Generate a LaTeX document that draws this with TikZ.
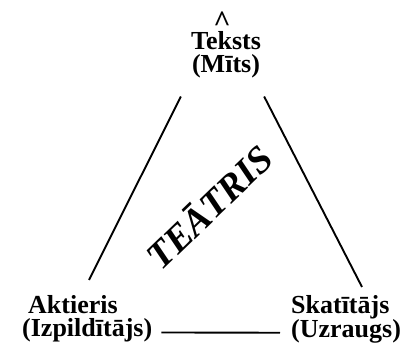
\documentclass[tikz,border=0pt]{standalone}
\usepackage{fontspec}
\setmainfont{Liberation Serif}
\usetikzlibrary{calc}

\begin{document}
\begin{tikzpicture}[x=1pt, y=-1pt]
\tikzset{
  role/.style={font=\fontsize{26}{23.5}\selectfont\bfseries, inner sep=0pt},
  side/.style={line width=1.9pt},
}
\useasboundingbox (0,0) rectangle (408,347);

% the three corners of the triangle
\node[role, align=center, anchor=north] (teksts) at (226,31) {Teksts\\(Mīts)};
\node[role, font=\fontsize{30}{30}\selectfont\bfseries, anchor=base] (caret) at (222,32) {\textasciicircum};
\node[role, align=left, anchor=north west] (aktieris) at (22,295) {\hspace{6pt}Aktieris\\(Izpildītājs)};
\node[role, align=left, anchor=north west] (skatitajs) at (291,295) {Skatītājs\\(Uzraugs)};

% the word in the middle
\node[font=\fontsize{38}{38}\selectfont\bfseries\itshape, inner sep=0pt, rotate=44] (teatris) at (208,206) {TEĀTRIS};

% sides
\draw[side] ($(teksts.south west)+(-10,18)$) -- ($(aktieris.north west)+(67,-15)$);
\draw[side] ($(teksts.south east)+(3,18)$) -- ($(skatitajs.north west)+(71,-8)$);
\draw[side] ($(aktieris.south east)+(9,-10)$) -- ($(skatitajs.south west)+(-11,-11)$);
\end{tikzpicture}
\end{document}
